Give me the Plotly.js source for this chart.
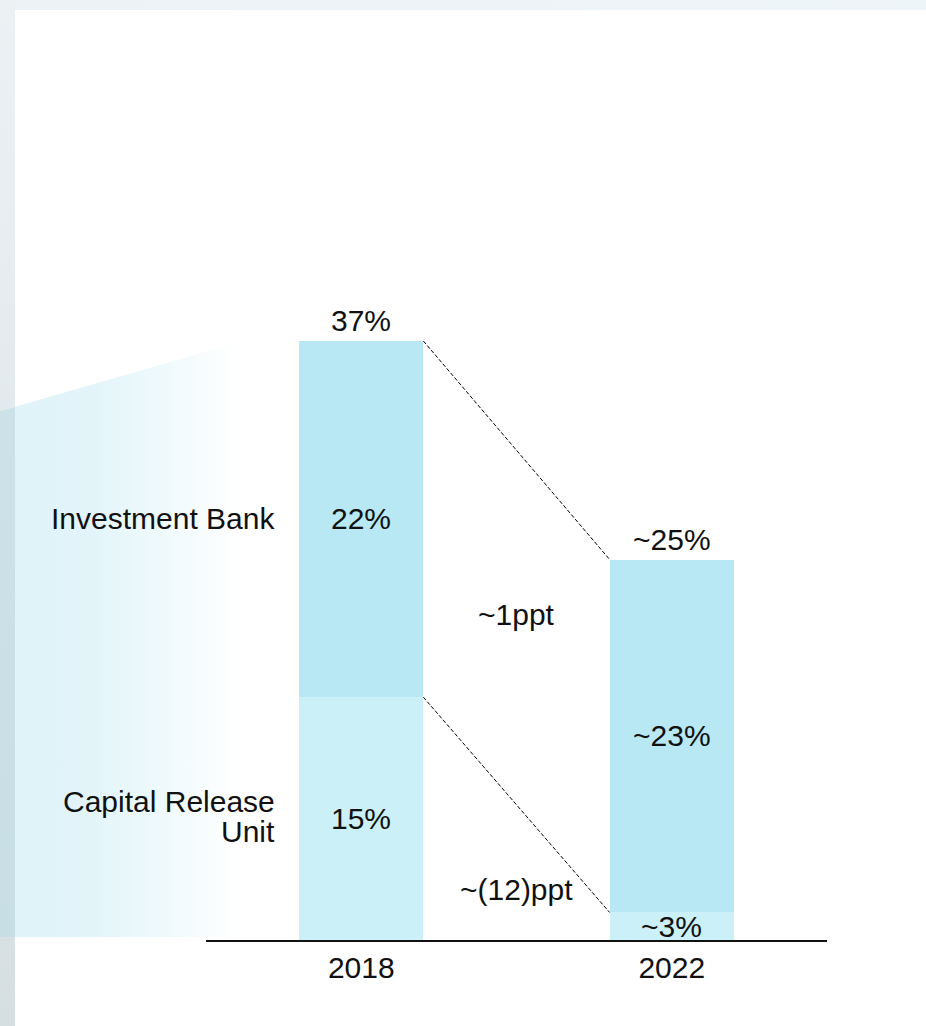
<!DOCTYPE html>
<html>
<head>
<meta charset="utf-8">
<script src="https://cdn.plot.ly/plotly-3.0.1.min.js"></script>
<style>
  html, body { margin: 0; padding: 0; background: #ffffff; }
  #wrap { position: relative; width: 926px; height: 1026px; overflow: hidden; background: #ffffff; }
  .deco { position: absolute; }
  #topband { left: 0; top: 0; width: 926px; height: 10px; background: linear-gradient(to right, #ecf2f5, #eef5f8); }
  #leftband { left: 0; top: 0; width: 15px; height: 1026px; background: linear-gradient(to bottom, #ecf1f4 0%, #e3eaed 40%, #d5dee1 100%); }
  #wedge { left: 0; top: 0; width: 260px; height: 1026px;
           clip-path: polygon(0px 411px, 233px 344px, 233px 937px, 0px 937px);
           background: linear-gradient(to right, #e0f3f8 0px, #e2f4f9 85px, #eef9fc 160px, #ffffff 236px); }
  #wedgeband { left: 0; top: 0; width: 15px; height: 1026px;
           clip-path: polygon(0px 411px, 15px 407px, 15px 937px, 0px 937px);
           background: linear-gradient(to bottom, #cfe4ea, #c8dee5); }
  #chart { position: absolute; left: 0; top: 0; width: 926px; height: 1026px; }
</style>
</head>
<body>
<div id="wrap">
  <div class="deco" id="topband"></div>
  <div class="deco" id="leftband"></div>
  <div class="deco" id="wedge"></div>
  <div class="deco" id="wedgeband"></div>
  <div id="chart"></div>
</div>
<script>
// ---- data ----
const years = ["2018", "2022"];
const capitalReleaseUnit = [15, 1.7];      // bar heights
const investmentBank = [22, 21.8];
const cruLabels = ["15%", "~3%"];
const ibLabels = ["22%", "~23%"];
const totalLabels = ["37%", "~25%"];
const changeLabels = ["~1ppt", "~(12)ppt"];
const seriesNames = ["Capital Release Unit", "Investment Bank"];

// ---- style ----
const FONT = "Liberation Sans, Arial, sans-serif";
const FS = 30;
const BAR_W = 0.4;
const xIdx = years.map((_, i) => i);
const totals = xIdx.map(i => capitalReleaseUnit[i] + investmentBank[i]);

const traces = [
  { type: "bar", x: xIdx, y: capitalReleaseUnit, width: BAR_W, name: seriesNames[0],
    marker: { color: "#ccf0f7", line: { width: 0 } }, hoverinfo: "skip" },
  { type: "bar", x: xIdx, y: investmentBank, width: BAR_W, name: seriesNames[1],
    marker: { color: "#b7e8f3", line: { width: 0 } }, hoverinfo: "skip" },
  // connector: top of totals
  { type: "scatter", mode: "lines", x: [xIdx[0] + BAR_W / 2, xIdx[1] - BAR_W / 2], y: totals,
    line: { color: "#000000", width: 1, dash: "4px,2px" }, hoverinfo: "skip" },
  // connector: CRU/IB boundary
  { type: "scatter", mode: "lines", x: [xIdx[0] + BAR_W / 2, xIdx[1] - BAR_W / 2], y: capitalReleaseUnit,
    line: { color: "#000000", width: 1, dash: "4px,2px" }, hoverinfo: "skip" }
];

const ann = [];
const base = { showarrow: false, font: { family: FONT, size: FS, color: "#111111" } };
xIdx.forEach(i => {
  ann.push(Object.assign({}, base, { x: i, y: capitalReleaseUnit[i] / 2, text: cruLabels[i], yanchor: "middle" }));
  ann.push(Object.assign({}, base, { x: i, y: capitalReleaseUnit[i] + investmentBank[i] / 2, text: ibLabels[i], yanchor: "middle", yshift: 1 }));
  ann.push(Object.assign({}, base, { x: i, y: totals[i], text: totalLabels[i], yanchor: "bottom", yshift: 2 }));
});
// change labels between bars
ann.push(Object.assign({}, base, { x: 0.5, y: 20.1, text: changeLabels[0], yanchor: "middle" }));
ann.push(Object.assign({}, base, { x: 0.5, y: 3.15, text: changeLabels[1], yanchor: "middle" }));
// series labels at left of first bar
ann.push(Object.assign({}, base, { x: xIdx[0] - BAR_W / 2, y: capitalReleaseUnit[0] + investmentBank[0] / 2,
  text: seriesNames[1], xanchor: "right", yanchor: "middle", xshift: -22, yshift: 1 }));
ann.push(Object.assign({}, base, { x: xIdx[0] - BAR_W / 2, y: capitalReleaseUnit[0] / 2,
  text: "Capital Release", xanchor: "right", yanchor: "middle", xshift: -22, yshift: 17 }));
ann.push(Object.assign({}, base, { x: xIdx[0] - BAR_W / 2, y: capitalReleaseUnit[0] / 2,
  text: "Unit", xanchor: "right", yanchor: "middle", xshift: -22, yshift: -13 }));

const layout = {
  width: 926, height: 1026,
  margin: { l: 0, r: 0, t: 0, b: 0 },
  paper_bgcolor: "rgba(0,0,0,0)",
  plot_bgcolor: "rgba(0,0,0,0)",
  barmode: "stack",
  bargap: 0,
  showlegend: false,
  xaxis: {
    domain: [206 / 926, 827 / 926], range: [-0.5, 1.5],
    tickvals: xIdx, ticktext: years, ticks: "",
    tickfont: { family: FONT, size: FS, color: "#111111" },
    showline: true, linecolor: "#111111", linewidth: 2,
    showgrid: false, zeroline: false, fixedrange: true
  },
  yaxis: {
    domain: [86 / 1026, 1016 / 1026], range: [0, 930 / 16.19],
    visible: false, showgrid: false, zeroline: false, fixedrange: true
  },
  annotations: ann
};

Plotly.newPlot("chart", traces, layout, { staticPlot: true, displayModeBar: false });
</script>
</body>
</html>
